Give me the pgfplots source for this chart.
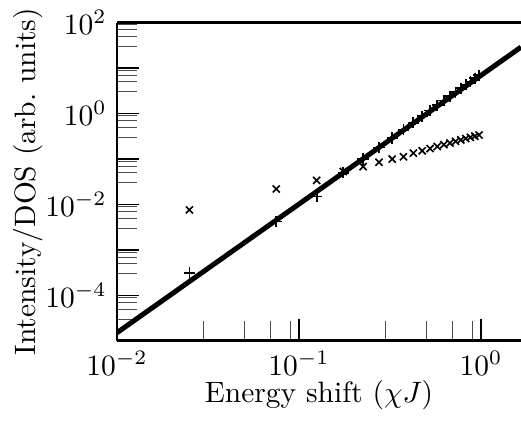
\documentclass[border=0pt]{standalone}
\usepackage{pgfplots}
\pgfplotsset{compat=1.18}
\usetikzlibrary{calc}
\pgfplotstableread{
x y
0.025 3.1e-4
0.075 4.2e-3
0.125 1.5e-2
0.175 0.050
0.225 0.10
0.275 0.18
0.325 0.29
0.375 0.44
0.425 0.63
0.475 0.87
0.525 1.17
0.575 1.52
0.625 1.93
0.675 2.40
0.725 2.95
0.775 3.6
0.825 4.3
0.875 5.1
0.925 6.0
0.975 7.0
}\plusdata
\pgfplotstableread{
x y
0.025 7.6e-3
0.075 2.2e-2
0.125 3.4e-2
0.175 5.3e-2
0.225 6.8e-2
0.275 8.5e-2
0.325 0.100
0.375 0.112
0.425 0.135
0.475 0.152
0.525 0.170
0.575 0.188
0.625 0.207
0.675 0.225
0.725 0.245
0.775 0.263
0.825 0.282
0.875 0.300
0.925 0.318
0.975 0.338
}\crossdata
\begin{document}
\begin{tikzpicture}
\begin{axis}[
  scale only axis,
  width=137pt, height=107.9pt,
  xmode=log, ymode=log,
  xmin=0.01, xmax=1.659,
  ymin=1e-5, ymax=1e2,
  axis x line=box, axis y line=left,
  axis line style={-, line width=0.9pt},
  xtick pos=left, ytick pos=left,
  xtick={0.01,0.1,1},
  ytick={1e-4,1e-2,1,1e2},
  extra y ticks={1e-5,1e-3,1e-1,1e1},
  extra y tick labels={},
  minor xtick={0.03,0.05,0.07,0.09,0.3,0.5,0.7,0.9},
  minor ytick={3e-5,5e-5,7e-5,9e-5,3e-4,5e-4,7e-4,9e-4,3e-3,5e-3,7e-3,9e-3,3e-2,5e-2,7e-2,9e-2,3e-1,5e-1,7e-1,9e-1,3,5,7,9,30,50,70,90},
  tick align=inside,
  major tick length=7.3pt, minor tick length=6.8pt,
  every major tick/.style={black, line width=0.5pt},
  every minor tick/.style={black!70, line width=0.3pt},
  xlabel={Energy shift ($\chi J$)},
  ylabel={Intensity/DOS (arb.\ units)},
  xlabel style={yshift=5pt},
  ylabel style={yshift=-6pt},
  clip=true,
]
\addplot[black, line width=1.7pt] coordinates {(0.01,1.51e-5) (1.659,29.0)};
\addplot[only marks, mark=+, mark size=1.9pt, mark options={line width=0.6pt}] table {\plusdata};
\addplot[only marks, mark=x, mark size=1.7pt, mark options={line width=0.55pt}] table {\crossdata};
\end{axis}
\pgfresetboundingbox
\path[use as bounding box] ($(current axis.south west)+(-39.7pt,-27.8pt)$) rectangle ($(current axis.north east)+(0pt,7.7pt)$);
\end{tikzpicture}
\end{document}
